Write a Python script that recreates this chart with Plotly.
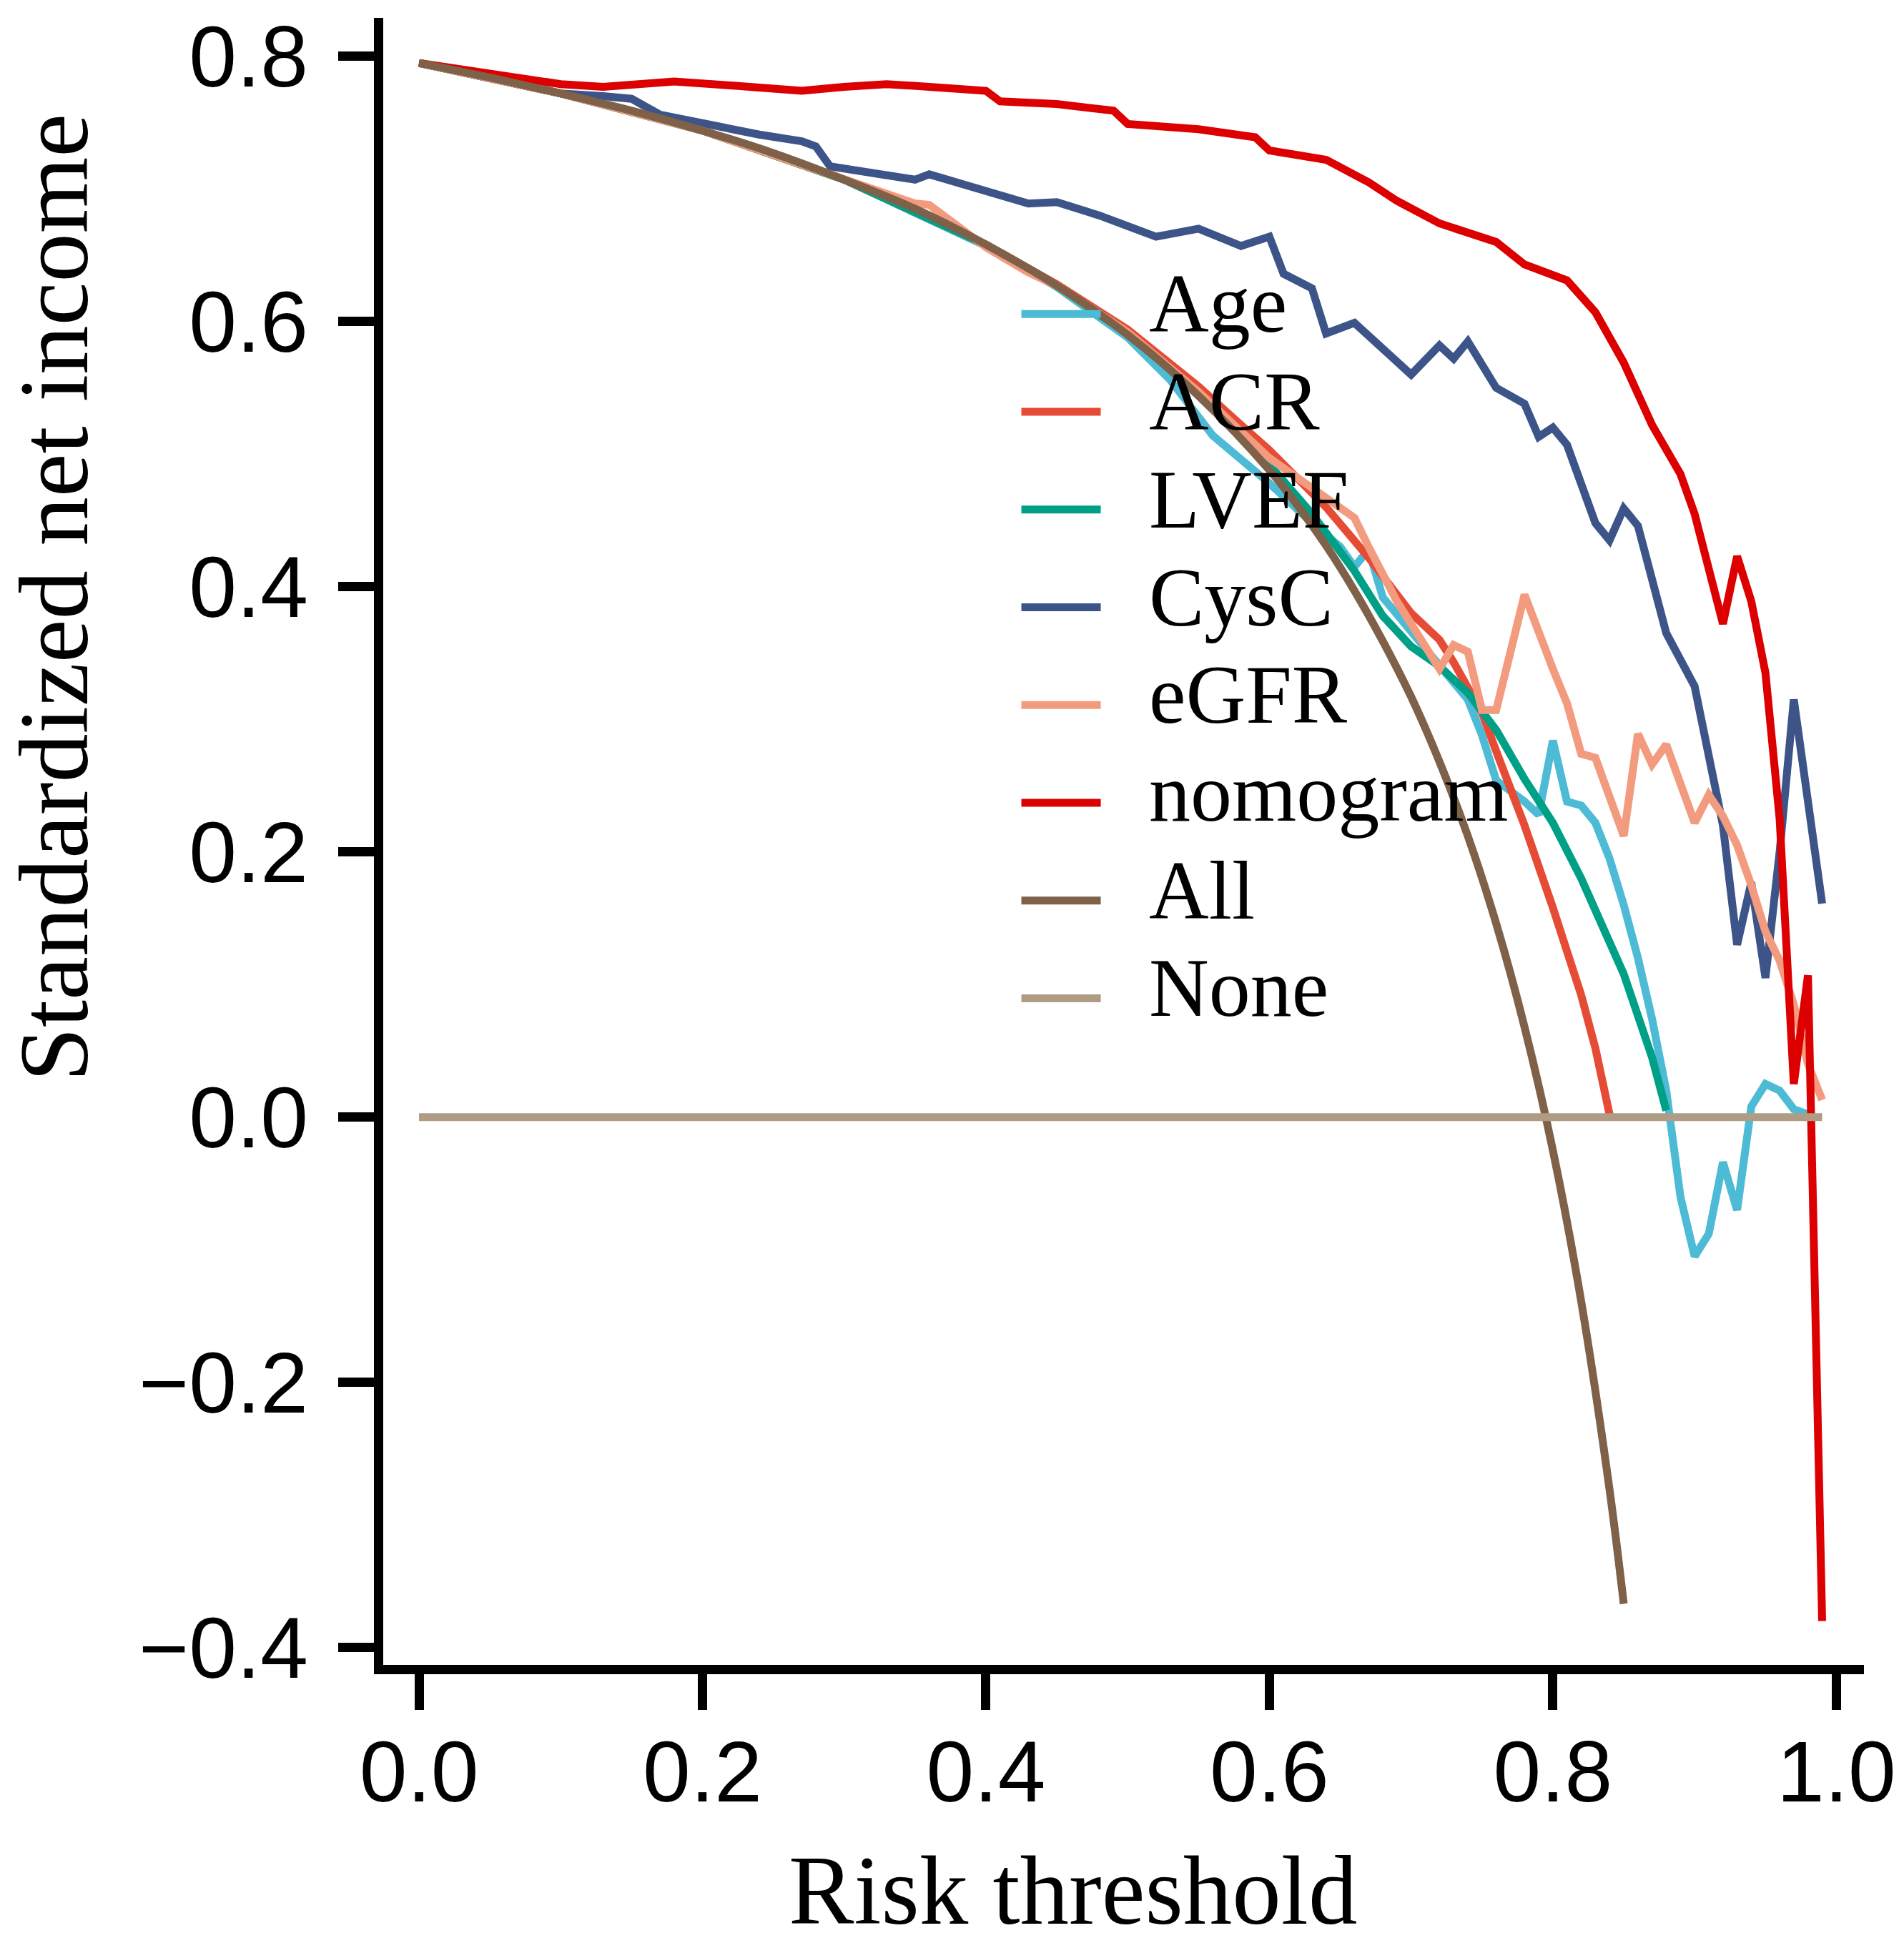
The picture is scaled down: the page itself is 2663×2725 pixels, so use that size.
import plotly.graph_objects as go

# decision curve values
thr_age = [0, 0.1, 0.2, 0.3, 0.4, 0.45, 0.5, 0.53, 0.56, 0.6, 0.63, 0.65, 0.66, 0.67, 0.68, 0.7,
           0.72, 0.74, 0.75, 0.76, 0.77, 0.78, 0.79, 0.8, 0.81, 0.82, 0.83, 0.84, 0.85, 0.86, 0.87,
           0.88, 0.89, 0.9, 0.91, 0.92, 0.93, 0.94, 0.95, 0.96, 0.97, 0.98]
nb_age = [0.795, 0.772, 0.744, 0.707, 0.657, 0.626, 0.588, 0.556, 0.514, 0.478, 0.448, 0.430, 0.415,
          0.428, 0.392, 0.366, 0.341, 0.315, 0.288, 0.254, 0.246, 0.238, 0.228, 0.284, 0.238, 0.235,
          0.222, 0.195, 0.160, 0.120, 0.074, 0.020, -0.060, -0.105, -0.088, -0.034, -0.070, 0.008,
          0.025, 0.020, 0.006, 0.002]

thr_acr = [0, 0.1, 0.2, 0.3, 0.4, 0.45, 0.5, 0.55, 0.58, 0.6, 0.64, 0.67, 0.7, 0.72, 0.73, 0.75,
           0.76, 0.77, 0.78, 0.8, 0.82, 0.83, 0.84]
nb_acr = [0.795, 0.772, 0.744, 0.707, 0.658, 0.628, 0.594, 0.551, 0.522, 0.503, 0.460, 0.422, 0.380,
          0.360, 0.343, 0.305, 0.276, 0.248, 0.220, 0.158, 0.092, 0.052, 0.002]

thr_lvef = [0, 0.1, 0.2, 0.3, 0.4, 0.45, 0.5, 0.55, 0.6, 0.63, 0.66, 0.68, 0.7, 0.72, 0.74, 0.76,
            0.78, 0.8, 0.82, 0.83, 0.85, 0.87, 0.88]
nb_lvef = [0.795, 0.772, 0.744, 0.707, 0.658, 0.627, 0.591, 0.546, 0.492, 0.455, 0.412, 0.378, 0.355,
           0.340, 0.320, 0.292, 0.255, 0.222, 0.180, 0.156, 0.108, 0.045, 0.005]

thr_cysc = [0, 0.05, 0.1, 0.13, 0.15, 0.17, 0.2, 0.24, 0.27, 0.28, 0.29, 0.32, 0.35, 0.36, 0.4, 0.43,
            0.45, 0.48, 0.52, 0.55, 0.58, 0.6, 0.61, 0.63, 0.64, 0.66, 0.7, 0.72, 0.73, 0.74, 0.76,
            0.78, 0.79, 0.8, 0.81, 0.83, 0.84, 0.85, 0.86, 0.87, 0.88, 0.9, 0.91, 0.92, 0.93, 0.94,
            0.95, 0.96, 0.97, 0.98, 0.99]
nb_cysc = [0.795, 0.784, 0.772, 0.770, 0.768, 0.756, 0.749, 0.741, 0.736, 0.732, 0.717, 0.712, 0.707,
           0.711, 0.699, 0.689, 0.690, 0.680, 0.664, 0.670, 0.657, 0.664, 0.636, 0.625, 0.591, 0.599,
           0.560, 0.582, 0.572, 0.585, 0.550, 0.538, 0.513, 0.520, 0.507, 0.448, 0.435, 0.459, 0.446,
           0.405, 0.365, 0.325, 0.271, 0.220, 0.130, 0.177, 0.105, 0.200, 0.315, 0.240, 0.161]

thr_egfr = [0, 0.1, 0.2, 0.3, 0.35, 0.36, 0.4, 0.43, 0.45, 0.5, 0.55, 0.6, 0.64, 0.66, 0.67, 0.69,
            0.72, 0.73, 0.74, 0.75, 0.76, 0.78, 0.8, 0.81, 0.82, 0.83, 0.85, 0.86, 0.87, 0.88, 0.9,
            0.91, 0.92, 0.93, 0.94, 0.95, 0.96, 0.97, 0.98, 0.99]
nb_egfr = [0.795, 0.772, 0.744, 0.707, 0.689, 0.688, 0.656, 0.637, 0.627, 0.592, 0.547, 0.497, 0.466,
           0.452, 0.430, 0.389, 0.338, 0.356, 0.351, 0.307, 0.307, 0.394, 0.338, 0.312, 0.274, 0.271,
           0.212, 0.289, 0.266, 0.281, 0.222, 0.243, 0.227, 0.205, 0.175, 0.140, 0.118, 0.085, 0.040,
           0.013]

thr_nomo = [0, 0.05, 0.1, 0.13, 0.18, 0.22, 0.27, 0.3, 0.33, 0.36, 0.4, 0.41, 0.45, 0.49, 0.5, 0.55,
            0.59, 0.6, 0.64, 0.67, 0.69, 0.72, 0.76, 0.78, 0.81, 0.83, 0.85, 0.87, 0.89, 0.9, 0.91,
            0.92, 0.93, 0.94, 0.95, 0.96, 0.97, 0.98, 0.99]
nb_nomo = [0.795, 0.787, 0.779, 0.777, 0.781, 0.778, 0.774, 0.777, 0.779, 0.777, 0.774, 0.766, 0.764,
           0.759, 0.749, 0.745, 0.739, 0.729, 0.722, 0.705, 0.691, 0.674, 0.660, 0.643, 0.631, 0.607,
           0.569, 0.522, 0.485, 0.455, 0.415, 0.372, 0.423, 0.389, 0.335, 0.225, 0.025, 0.107, -0.380]

thr_all = [0, 0.05, 0.1, 0.15, 0.2, 0.25, 0.3, 0.35, 0.4, 0.45, 0.5, 0.55, 0.6, 0.62, 0.64, 0.66,
           0.68, 0.7, 0.72, 0.74, 0.76, 0.78, 0.8, 0.82, 0.84, 0.85]
nb_all = [0.795, 0.784, 0.772, 0.759, 0.744, 0.727, 0.707, 0.685, 0.658, 0.627, 0.590, 0.544, 0.488,
          0.461, 0.431, 0.397, 0.359, 0.317, 0.268, 0.212, 0.146, 0.068, -0.025, -0.139, -0.281, -0.367]

thr_none = [0, 0.99]
nb_none = [0, 0]

series_names = ["Age", "ACR", "LVEF", "CysC", "eGFR", "nomogram", "All", "None"]
series_x = [thr_age, thr_acr, thr_lvef, thr_cysc, thr_egfr, thr_nomo, thr_all, thr_none]
series_y = [nb_age, nb_acr, nb_lvef, nb_cysc, nb_egfr, nb_nomo, nb_all, nb_none]
series_colors = ["#4DBBD5", "#E64B35", "#00A087", "#3C5488", "#F39B7F", "#DC0000", "#7E6148", "#B09C85"]

x_ticks = [0, 0.2, 0.4, 0.6, 0.8, 1.0]
x_ticktext = ["0.0", "0.2", "0.4", "0.6", "0.8", "1.0"]
y_ticks = [-0.4, -0.2, 0, 0.2, 0.4, 0.6, 0.8]
y_ticktext = ["\u22120.4", "\u22120.2", "0.0", "0.2", "0.4", "0.6", "0.8"]

W, H = 2663, 2725
LW = 13  # axis line width; plotly pushes the line outward by LW/2
ML, MR, MT, MB = 529 + LW / 2, 38, 16, 389 + LW / 2
plot_w = W - ML - MR
plot_h = H - MT - MB

serif = "Liberation Serif, Times New Roman, serif"
sans = "Liberation Sans, Arial, sans-serif"

fig = go.Figure()
for name, xs, ys, col in zip(series_names, series_x, series_y, series_colors):
    fig.add_trace(go.Scatter(x=xs, y=ys, mode="lines", name=name,
                             line=dict(color=col, width=11,
                                       shape="spline" if name == "All" else "linear")))

# hand-made legend (long line samples, serif labels, no box)
leg_top = 432
leg_step = 137.3
for i, (name, col) in enumerate(zip(series_names, series_colors)):
    py = (H - MB - (leg_top + i * leg_step)) / plot_h
    fig.add_shape(type="line", xref="paper", yref="paper",
                  x0=(1436 - ML) / plot_w, x1=(1548 - ML) / plot_w, y0=py, y1=py,
                  line=dict(color=col, width=11))
    fig.add_annotation(text=name, xref="paper", yref="paper",
                       x=(1614 - ML) / plot_w, y=py, xanchor="left", yanchor="middle",
                       yshift=14, showarrow=False,
                       font=dict(family=serif, size=116, color="black"))

fig.add_annotation(text="Risk threshold", xref="paper", yref="paper",
                   x=(1509 - ML) / plot_w, y=0, xanchor="center", yanchor="middle",
                   yshift=-(2645 - (H - MB)), showarrow=False,
                   font=dict(family=serif, size=137, color="black"))
fig.add_annotation(text="Standardized net income", xref="paper", yref="paper",
                   x=0, y=(H - MB - 831) / plot_h, xanchor="center", yanchor="middle",
                   xshift=-(ML - 75), textangle=-90, showarrow=False,
                   font=dict(family=serif, size=137, color="black"))

axis_style = dict(showline=True, linecolor="black", linewidth=LW, ticks="outside",
                  ticklen=50, tickwidth=LW, tickcolor="black", showgrid=False,
                  zeroline=False, tickfont=dict(family=sans, size=120, color="black"))
fig.update_xaxes(range=[-0.02525, 1.0195], tickvals=x_ticks, ticktext=x_ticktext,
                 ticklabeloverflow="allow", ticklabelstandoff=-16, **axis_style)
fig.update_yaxes(range=[-0.4131, 0.829], tickvals=y_ticks, ticktext=y_ticktext,
                 ticklabelstandoff=18, **axis_style)

fig.update_layout(width=W, height=H, margin=dict(l=ML, r=MR, t=MT, b=MB),
                  plot_bgcolor="white", paper_bgcolor="white", showlegend=False)

fig.write_html("out.html", config={"displayModeBar": False},
               post_script="document.body.style.margin = '0'; "
                           "document.body.style.overflow = 'hidden';")
